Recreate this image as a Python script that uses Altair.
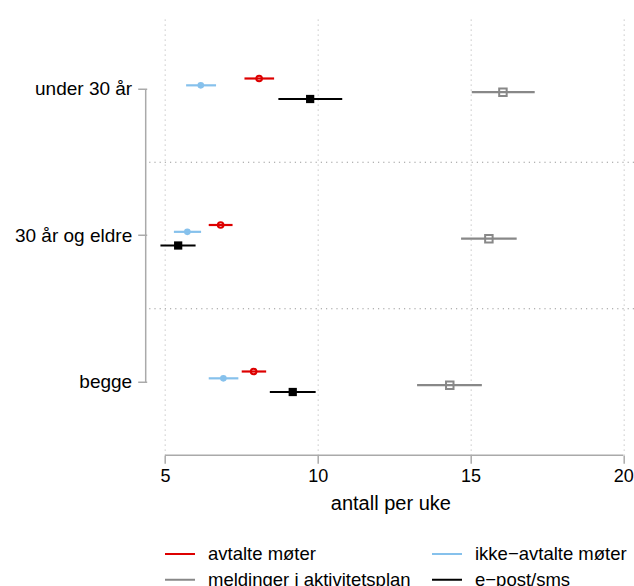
import altair as alt
import pandas as pd

groups = ["under 30 år", "30 år og eldre", "begge"]
series = ["avtalte møter", "ikke−avtalte møter", "meldinger i aktivitetsplan", "e−post/sms"]
colors = ["#DD0000", "#86C1EC", "#888888", "#000000"]
shapes = ["circle", "circle", "square", "square"]
sizes = [32, 68, 38, 75]

est = {
    "avtalte møter": [8.08, 6.82, 7.90],
    "ikke−avtalte møter": [6.17, 5.73, 6.91],
    "meldinger i aktivitetsplan": [16.06, 15.60, 14.32],
    "e−post/sms": [9.75, 5.43, 9.18],
}
lo = {
    "avtalte møter": [7.60, 6.43, 7.51],
    "ikke−avtalte møter": [5.69, 5.29, 6.43],
    "meldinger i aktivitetsplan": [15.04, 14.69, 13.25],
    "e−post/sms": [8.71, 4.85, 8.43],
}
hi = {
    "avtalte møter": [8.57, 7.21, 8.31],
    "ikke−avtalte møter": [6.67, 6.18, 7.40],
    "meldinger i aktivitetsplan": [17.10, 16.51, 15.37],
    "e−post/sms": [10.80, 6.00, 9.93],
}
x_ticks = [5, 10, 15, 20]
separators = ["30 år og eldre", "begge"]

rows = []
for s in series:
    for i, g in enumerate(groups):
        rows.append({"gruppe": g, "serie": s, "form": s,
                     "est": est[s][i], "lo": lo[s][i], "hi": hi[s][i]})
df = pd.DataFrame(rows)

# legend laid out column by column: reorder so rows read as in the reference
legend_order = [series[0], series[2], series[1], series[3]]
legend_colors = [colors[series.index(s)] for s in legend_order]

W = 487.3
H = 439.5
FONT = "Liberation Sans"

yscale = alt.Scale(domain=groups, paddingInner=0, paddingOuter=0)
xscale = alt.Scale(domain=[4.4, 20.35], nice=False, zero=False)
cscale = alt.Scale(domain=legend_order, range=legend_colors)
offscale = alt.Scale(type="point", domain=series, range=[62.75, 83.25], padding=0)
shapescale = alt.Scale(domain=series, range=shapes)
sizescale = alt.Scale(domain=series, range=sizes)

yaxis = alt.Axis(title=None, domain=False, grid=False, tickSize=9, tickColor="#aaaaaa",
                 tickWidth=1.5, labelFontSize=19, labelColor="black", labelPadding=6,
                 labelFont=FONT)
xaxis = alt.Axis(title="antall per uke", values=x_ticks, domain=False, grid=True,
                 gridColor="#c8c8c8", gridDash=[1.2, 3.8], gridWidth=1.2,
                 tickSize=8, tickColor="#aaaaaa", tickWidth=1.5,
                 labelFontSize=18, labelColor="black", labelPadding=4, labelFont=FONT,
                 titleFontSize=20, titleFontWeight="normal", titleColor="black",
                 titlePadding=8, titleFont=FONT, labelFlush=False)

base = alt.Chart(df)

bars = base.mark_rule(strokeWidth=2.2).encode(
    y=alt.Y("gruppe:N", scale=yscale, axis=yaxis, sort=groups),
    yOffset=alt.YOffset("serie:N", scale=offscale, sort=series),
    x=alt.X("lo:Q", scale=xscale, axis=xaxis),
    x2="hi:Q",
    color=alt.Color("serie:N", scale=cscale, title=None,
                    legend=alt.Legend(orient="none", legendX=17.3, legendY=522,
                                      columns=2, symbolType="stroke", symbolSize=900,
                                      symbolStrokeWidth=2, labelFontSize=18.5,
                                      labelFont=FONT, labelColor="black",
                                      labelOffset=12, columnPadding=17, rowPadding=-5,
                                      padding=0, labelLimit=400)),
)


def points(which, filled, sw):
    return base.transform_filter(
        alt.FieldOneOfPredicate(field="serie", oneOf=which)
    ).mark_point(filled=filled, opacity=1, strokeWidth=sw).encode(
        y=alt.Y("gruppe:N", scale=yscale, sort=groups),
        yOffset=alt.YOffset("serie:N", scale=offscale, sort=series),
        x=alt.X("est:Q", scale=xscale),
        color=alt.Color("serie:N", scale=cscale, legend=None),
        shape=alt.Shape("form:N", scale=shapescale, legend=None),
        size=alt.Size("form:N", scale=sizescale, legend=None),
    )


opened = points([series[0], series[2]], False, 2)
filled = points([series[1], series[3]], True, 0)

sep = alt.Chart(pd.DataFrame({"gruppe": separators})).mark_rule(
    color="#999999", strokeDash=[1.2, 4], strokeWidth=1.2
).encode(
    y=alt.Y("gruppe:N", scale=yscale, sort=groups, bandPosition=0),
)

yline = alt.Chart(pd.DataFrame({"a": [0]})).mark_rule(color="#aaaaaa", strokeWidth=1.5).encode(
    y=alt.YDatum(datum=groups[0], type="nominal", scale=yscale),
    y2=alt.Y2Datum(datum=groups[-1]),
    x=alt.value(-1),
)

xline = alt.Chart(pd.DataFrame({"a": [0]})).mark_rule(color="#aaaaaa", strokeWidth=1.5).encode(
    x=alt.XDatum(datum=x_ticks[0], type="quantitative", scale=xscale),
    x2=alt.X2Datum(datum=x_ticks[-1]),
    y=alt.value(H),
)

chart = alt.layer(bars, sep, yline, xline, opened, filled).properties(
    width=W, height=H,
    autosize=alt.AutoSizeParams(type="none"),
    padding={"left": 146.7, "top": 15.75, "right": 0, "bottom": 130.75},
).configure(font=FONT, view=alt.ViewConfig(stroke=None))

chart.save("out.html", embed_options={"renderer": "svg", "actions": False})
